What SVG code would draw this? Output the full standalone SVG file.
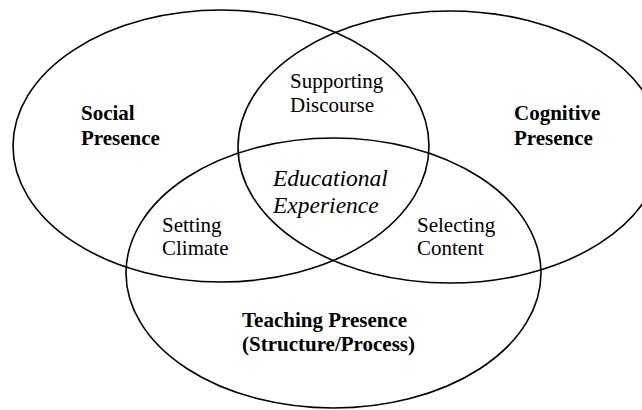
<svg xmlns="http://www.w3.org/2000/svg" width="642" height="410" viewBox="0 0 642 410">
<style>
.ring{fill:none;stroke:#000;stroke-width:1.6}
.t{font-family:"Liberation Serif","Times New Roman",serif;font-size:21px;fill:#000}
.b{font-weight:bold}
.i{font-style:italic;font-size:23.5px}
</style>
<rect width="642" height="410" fill="#fff"/>
<g id="social">
<ellipse class="ring" cx="221" cy="146" rx="208" ry="136"/>
<text class="t b" x="81" y="120">Social</text>
<text class="t b" x="81" y="145">Presence</text>
</g>
<g id="cognitive">
<ellipse class="ring" cx="450" cy="147" rx="212" ry="136"/>
<text class="t b" x="514" y="120">Cognitive</text>
<text class="t b" x="514" y="145">Presence</text>
</g>
<g id="teaching">
<ellipse class="ring" cx="333.5" cy="273" rx="207.5" ry="135"/>
<text class="t b" x="242" y="327">Teaching Presence</text>
<text class="t b" x="242" y="351">(Structure/Process)</text>
</g>
<g id="supporting-discourse">
<text class="t" x="290" y="88">Supporting</text>
<text class="t" x="290" y="112">Discourse</text>
</g>
<g id="setting-climate">
<text class="t" x="162" y="232">Setting</text>
<text class="t" x="162" y="255">Climate</text>
</g>
<g id="selecting-content">
<text class="t" x="417" y="232">Selecting</text>
<text class="t" x="417" y="255">Content</text>
</g>
<g id="educational-experience">
<text class="t i" x="273" y="186">Educational</text>
<text class="t i" x="273" y="213">Experience</text>
</g>
<g id="connectors"/>
</svg>
